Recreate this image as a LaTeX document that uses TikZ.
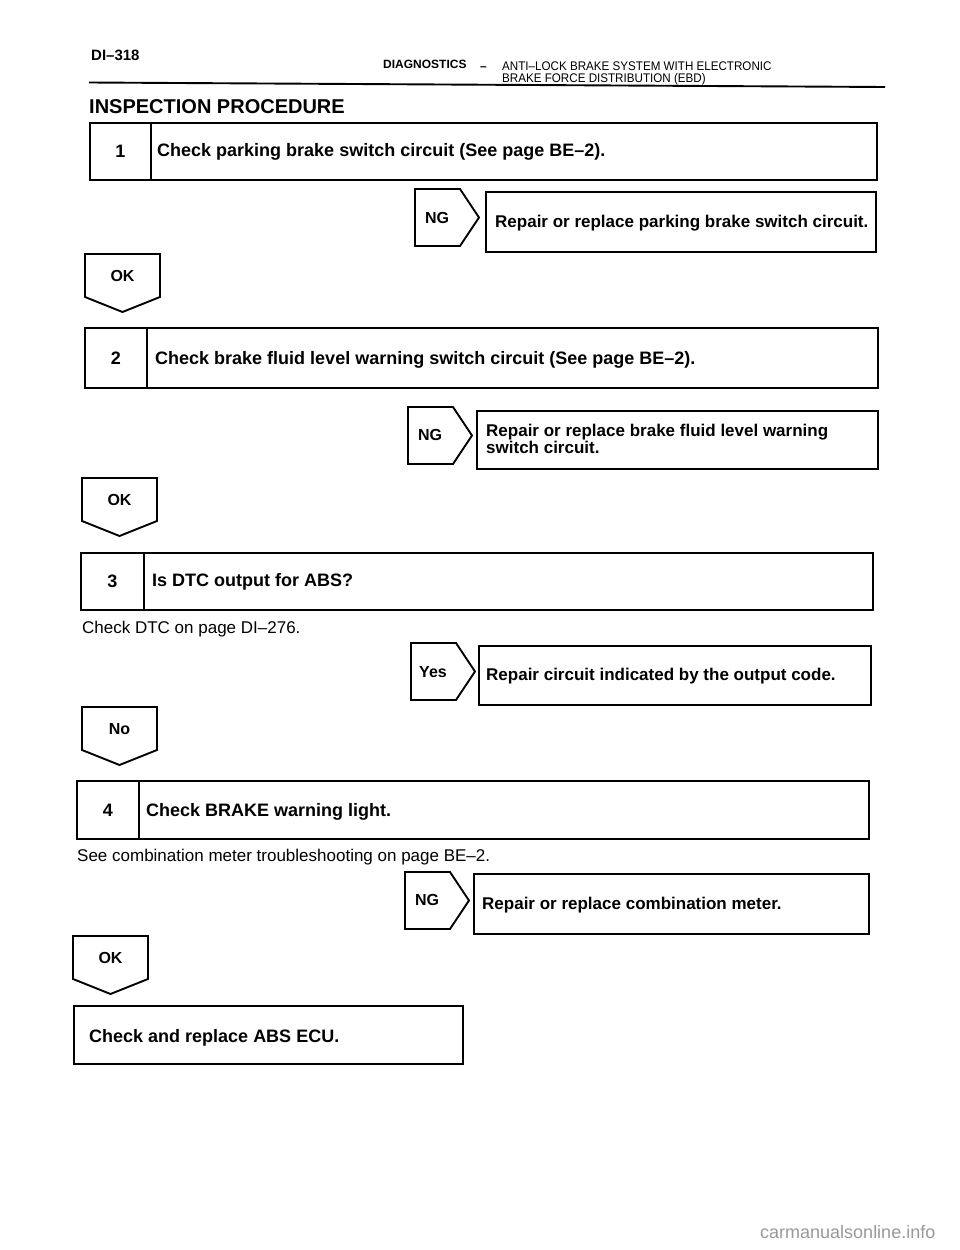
\documentclass[tikz,border=0pt]{standalone}
\usepackage{fontspec}
\setmainfont{Liberation Sans}
\newfontfamily\hdrfont{Liberation Sans}[FakeStretch=0.93]
\begin{document}
\begin{tikzpicture}[x=1pt,y=-1pt,
  outl/.style={line width=1.9pt, line join=miter},
  cell/.style={draw, line width=1.9pt, inner sep=0pt, anchor=north west},
  numcell/.style={cell, font=\bfseries\fontsize{18}{20}\selectfont},
  body/.style={font=\bfseries\fontsize{18}{20}\selectfont, inner sep=0pt, anchor=west, text height=12.9pt, text depth=0pt},
  result/.style={body, font=\bfseries\fontsize{17}{19}\selectfont, text height=12.2pt},
  note/.style={font=\fontsize{17}{19}\selectfont, inner sep=0pt, anchor=west, text height=12.2pt, text depth=0pt},
  hdr/.style={font=\hdrfont\fontsize{12.5}{14}\selectfont, inner sep=0pt, anchor=west, text height=9pt, text depth=0pt},
  tagtext/.style={font=\bfseries\fontsize{16}{18}\selectfont, inner sep=0pt},
  ngtag/.pic={\draw[outl] (0,0) -- (45,0) -- (64,28.5) -- (45,57) -- (0,57) -- cycle;},
  oktag/.pic={\draw[outl] (0,0) -- (75,0) -- (75,43) -- (37.5,58) -- (0,43) -- cycle;}
]
\useasboundingbox[fill=white] (0,0) rectangle (960,1250);

% header
\node[font=\bfseries\fontsize{15}{17}\selectfont, inner sep=0pt, anchor=west, text height=10.7pt, text depth=0pt] (page) at (91,55) {DI–318};
\node[font=\bfseries\fontsize{12}{14}\selectfont, inner sep=0pt, anchor=west, text height=8.6pt, text depth=0pt] (diag) at (383,64.5) {DIAGNOSTICS};
\node[font=\bfseries\fontsize{12}{14}\selectfont, inner sep=0pt, anchor=west] (dash) at (480,68.5) {–};
\node[hdr] (title1) at (502,65.5) {ANTI–LOCK BRAKE SYSTEM WITH ELECTRONIC};
\node[hdr] (title2) at (502,78) {BRAKE FORCE DISTRIBUTION (EBD)};
\coordinate (ruleL) at (89,82.5);
\coordinate (ruleR) at (885,87);
\draw[line width=1.9pt] (ruleL) -- (ruleR);
\node[font=\bfseries\fontsize{20}{22}\selectfont, inner sep=0pt, anchor=west, text height=14.3pt, text depth=0pt] (insp) at (89,106) {INSPECTION PROCEDURE};

% step 1
\node[numcell, minimum width=61pt, minimum height=57pt] (n1) at (89,122) {1};
\node[cell, minimum width=726pt, minimum height=57pt] (c1) at (150,122) {};
\node[body] (t1) at (157,150) {Check parking brake switch circuit (See page BE–2).};
\pic at (415,189) {ngtag};
\node[tagtext] (ng1) at (437,218) {NG};
\node[cell, minimum width=390pt, minimum height=60pt] (r1) at (485,191) {};
\node[result] (r1t) at (495,221) {Repair or replace parking brake switch circuit.};
\pic at (85,254) {oktag};
\node[tagtext] (ok1) at (122.5,276) {OK};

% step 2
\node[numcell, minimum width=62pt, minimum height=60pt] (n2) at (84,327) {2};
\node[cell, minimum width=731pt, minimum height=60pt] (c2) at (146,327) {};
\node[body] (t2) at (155,358) {Check brake fluid level warning switch circuit (See page BE–2).};
\pic at (408,407) {ngtag};
\node[tagtext] (ng2) at (430,435) {NG};
\node[cell, minimum width=401pt, minimum height=58pt] (r2) at (476,410) {};
\node[result] (r2a) at (486,430.5) {Repair or replace brake fluid level warning};
\node[result] (r2b) at (486,447.5) {switch circuit.};
\pic at (82,478) {oktag};
\node[tagtext] (ok2) at (119.5,500) {OK};

% step 3
\node[numcell, minimum width=63pt, minimum height=57pt] (n3) at (80,552) {3};
\node[cell, minimum width=729pt, minimum height=57pt] (c3) at (143,552) {};
\node[body] (t3) at (152,580) {Is DTC output for ABS?};
\node[note] (d3) at (82,627) {Check DTC on page DI–276.};
\pic at (411,643) {ngtag};
\node[tagtext] (yes3) at (433,672) {Yes};
\node[cell, minimum width=392pt, minimum height=59pt] (r3) at (478,645) {};
\node[result] (r3t) at (486,674) {Repair circuit indicated by the output code.};
\pic at (82,707) {oktag};
\node[tagtext] (no3) at (119.5,729) {No};

% step 4
\node[numcell, minimum width=62pt, minimum height=58pt] (n4) at (76,780) {4};
\node[cell, minimum width=730pt, minimum height=58pt] (c4) at (138,780) {};
\node[body] (t4) at (146,810) {Check BRAKE warning light.};
\node[note] (d4) at (77,855) {See combination meter troubleshooting on page BE–2.};
\pic at (405,872) {ngtag};
\node[tagtext] (ng4) at (427,900) {NG};
\node[cell, minimum width=395pt, minimum height=60pt] (r4) at (473,873) {};
\node[result] (r4t) at (482,903) {Repair or replace combination meter.};
\pic at (73,936) {oktag};
\node[tagtext] (ok4) at (110.5,958) {OK};

% final
\node[cell, minimum width=389pt, minimum height=58pt] (fin) at (73,1005) {};
\node[body] (fint) at (89,1036) {Check and replace ABS ECU.};

% watermark
\node[font=\fontsize{18}{20}\selectfont, text=black!40, inner sep=0pt, anchor=west] (wm) at (760,1232) {carmanualsonline.info};
\end{tikzpicture}
\end{document}
